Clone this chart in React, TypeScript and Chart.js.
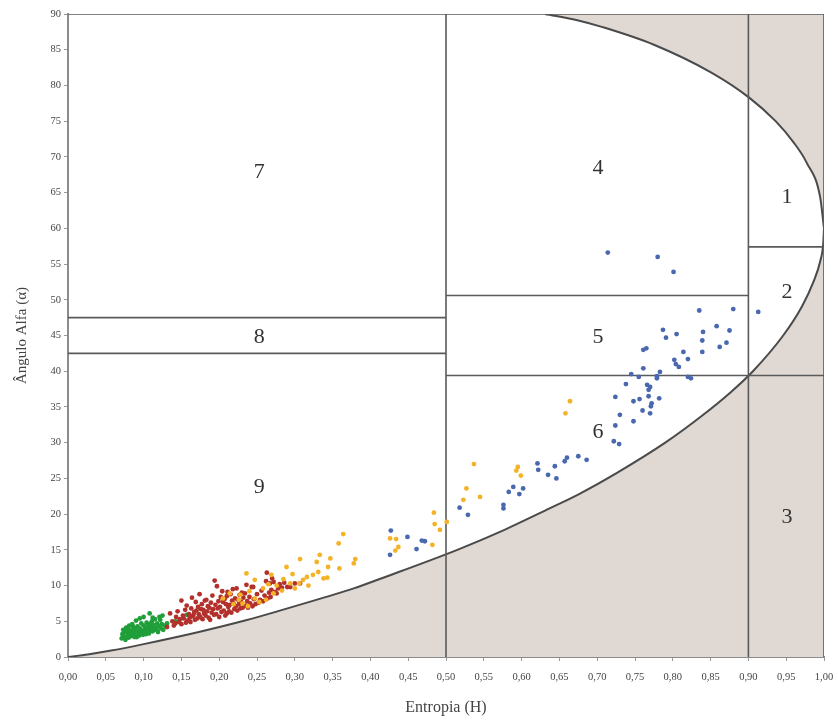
import React, { useEffect, useRef } from "react";
import { Chart, registerables } from "chart.js";

Chart.register(...registerables);

type P = [number, number];

const lowerCurve: P[] = [
  [0, 0], [0.026, 0.36], [0.057, 0.9], [0.1, 1.8], [0.173, 3.5], [0.234, 5.1], [0.287, 6.7],
  [0.335, 8.2], [0.378, 9.6], [0.417, 11.1], [0.515, 15], [0.569, 17.4], [0.637, 20.8],
  [0.676, 22.8], [0.725, 25.7], [0.79, 30], [0.839, 33.8], [0.877, 37.1], [0.906, 40],
  [0.946, 45], [0.971, 49.1], [0.986, 52.5], [0.995, 55.4], [0.999, 57.9], [1, 60],
];

const upperCurve: P[] = [
  [0.631, 90], [0.675, 89.1], [0.706, 88.2], [0.775, 85.7], [0.851, 81.8], [0.901, 78.3],
  [0.936, 75], [0.96, 72], [0.977, 69.2], [0.995, 64.3], [1, 60],
];

const zoneSegments: P[][] = [
  [[0.5, 0], [0.5, 90]],
  [[0.9, 0], [0.9, 90]],
  [[0, 42.5], [0.5, 42.5]],
  [[0, 47.5], [0.5, 47.5]],
  [[0.5, 39.4], [0.9, 39.4]],
  [[0.5, 50.6], [0.9, 50.6]],
  [[0.9, 39.4], [1, 39.4]],
  [[0.9, 57.4], [1, 57.4]],
  [[0, 90], [1, 90]],
  [[1, 0], [1, 90]],
];

const zoneNames = ["1", "2", "3", "4", "5", "6", "7", "8", "9"];
const zoneNameH = [0.951, 0.951, 0.951, 0.701, 0.701, 0.701, 0.253, 0.253, 0.253];
const zoneNameA = [64.4, 51.0, 19.6, 68.4, 44.7, 31.5, 67.9, 44.7, 23.8];

const bluePoints: P[] = [
  [0.714, 56.6], [0.78, 56.0], [0.801, 53.9],
  [0.835, 48.5], [0.88, 48.7], [0.913, 48.3],
  [0.787, 45.8], [0.791, 44.7], [0.805, 45.2], [0.84, 45.5], [0.858, 46.3], [0.875, 45.7],
  [0.839, 44.3], [0.871, 44.0], [0.862, 43.4], [0.839, 42.7],
  [0.761, 43.0], [0.765, 43.2], [0.814, 42.7], [0.82, 41.7], [0.802, 41.6], [0.804, 41.0],
  [0.808, 40.6], [0.761, 40.4], [0.783, 39.9], [0.779, 39.3], [0.779, 39.0], [0.745, 39.6],
  [0.755, 39.2], [0.82, 39.2], [0.824, 39.0],
  [0.738, 38.2], [0.766, 38.1], [0.77, 37.8], [0.768, 37.4], [0.724, 36.4], [0.748, 35.8],
  [0.756, 36.1], [0.768, 36.5], [0.772, 35.5], [0.771, 35.1], [0.782, 36.2], [0.76, 34.5],
  [0.77, 34.1], [0.73, 33.9], [0.748, 33.0], [0.724, 32.4], [0.722, 30.2], [0.729, 29.8],
  [0.675, 28.1], [0.686, 27.6], [0.66, 27.9], [0.657, 27.4], [0.644, 26.7],
  [0.621, 27.1], [0.622, 26.2], [0.635, 25.5], [0.646, 25.0], [0.589, 23.8], [0.602, 23.6],
  [0.583, 23.1], [0.597, 22.8], [0.576, 21.3], [0.576, 20.8],
  [0.518, 20.9], [0.529, 19.9],
  [0.427, 17.7], [0.449, 16.8], [0.468, 16.3], [0.472, 16.2], [0.461, 15.1], [0.426, 14.3],
];

const orangePoints: P[] = [
  [0.664, 35.8], [0.658, 34.1], [0.595, 26.6], [0.593, 26.1], [0.599, 25.4], [0.545, 22.4],
  [0.537, 27.0], [0.527, 23.6], [0.523, 22.0],
  [0.484, 20.2], [0.485, 18.6], [0.492, 17.8], [0.501, 18.9], [0.482, 15.7],
  [0.364, 17.2], [0.358, 15.9], [0.426, 16.6], [0.434, 16.5], [0.437, 15.4], [0.433, 14.9],
  [0.38, 13.7], [0.378, 13.1], [0.333, 14.3], [0.329, 13.3], [0.307, 13.7], [0.347, 13.8],
  [0.344, 12.6], [0.359, 12.4], [0.331, 11.9], [0.338, 11.0], [0.343, 11.1], [0.289, 12.6],
  [0.316, 11.2], [0.297, 11.6], [0.311, 10.8], [0.324, 11.5], [0.236, 11.7], [0.269, 11.5],
  [0.285, 10.9], [0.294, 10.3], [0.306, 10.3], [0.247, 10.8], [0.283, 9.3], [0.272, 8.9],
  [0.262, 8.0], [0.247, 8.2], [0.253, 7.7], [0.214, 8.9], [0.228, 8.7], [0.231, 7.5],
  [0.238, 7.1], [0.219, 7.4], [0.3, 9.6], [0.318, 10.0], [0.258, 9.6], [0.265, 10.2],
  [0.205, 8.2], [0.24, 9.2], [0.276, 10.0], [0.226, 8.0],
];

const redPoints: P[] = [
  [0.131, 4.2], [0.135, 6.1], [0.138, 5.0], [0.14, 4.4], [0.142, 4.7], [0.143, 5.6], [0.145, 6.4],
  [0.147, 4.9], [0.148, 5.3], [0.15, 7.9], [0.15, 4.6], [0.152, 5.8], [0.153, 5.4], [0.155, 6.6],
  [0.156, 4.8], [0.157, 7.2], [0.158, 5.1], [0.16, 6.0], [0.161, 5.5], [0.162, 4.9], [0.163, 6.8],
  [0.164, 8.3], [0.165, 5.7], [0.166, 5.9], [0.167, 6.3], [0.168, 5.2], [0.169, 7.7], [0.17, 6.5],
  [0.171, 5.4], [0.172, 7.0], [0.173, 6.0], [0.174, 8.8], [0.175, 5.6], [0.176, 6.7], [0.177, 7.4],
  [0.178, 5.3], [0.179, 6.6], [0.18, 6.1], [0.181, 7.9], [0.182, 5.8], [0.183, 8.0], [0.184, 6.4],
  [0.185, 7.1], [0.186, 5.5], [0.187, 6.9], [0.188, 5.2], [0.189, 7.6], [0.19, 6.2], [0.191, 8.6],
  [0.192, 6.7], [0.193, 5.9], [0.194, 10.7], [0.195, 7.3], [0.196, 6.0], [0.197, 9.9], [0.198, 6.8],
  [0.199, 7.8], [0.2, 5.6], [0.201, 7.0], [0.202, 8.4], [0.203, 6.3], [0.204, 9.2], [0.205, 7.7],
  [0.206, 6.5], [0.207, 8.1], [0.208, 5.8], [0.209, 7.4], [0.21, 8.5], [0.21, 6.1], [0.211, 9.1],
  [0.212, 7.0], [0.213, 6.4], [0.214, 7.3], [0.215, 8.8], [0.216, 6.2], [0.217, 7.9], [0.218, 9.5],
  [0.219, 7.5], [0.22, 6.7], [0.221, 8.2], [0.222, 7.1], [0.223, 9.6], [0.224, 6.5], [0.225, 8.0],
  [0.226, 7.4], [0.227, 8.7], [0.228, 6.8], [0.229, 7.7], [0.23, 9.0], [0.231, 6.9], [0.232, 8.3],
  [0.234, 8.9], [0.235, 7.2], [0.236, 10.1], [0.237, 7.8], [0.238, 6.9], [0.24, 8.4], [0.241, 7.5],
  [0.243, 9.8], [0.244, 7.1], [0.245, 9.8], [0.246, 8.1], [0.248, 7.4], [0.25, 8.8], [0.252, 7.6],
  [0.254, 8.0], [0.256, 9.3], [0.258, 7.8], [0.26, 8.6], [0.262, 10.6], [0.263, 11.8], [0.264, 8.2],
  [0.266, 9.0], [0.267, 10.3], [0.268, 8.4], [0.269, 9.4], [0.27, 11.0], [0.272, 10.5], [0.274, 9.1],
  [0.276, 8.9], [0.278, 9.6], [0.28, 10.2], [0.283, 9.7], [0.286, 10.4], [0.29, 9.8], [0.294, 9.8],
  [0.3, 10.3], [0.307, 10.3],
];

const greenPoints: P[] = [
  [0.071, 2.6], [0.072, 3.2], [0.073, 3.8], [0.074, 2.9], [0.075, 3.5], [0.076, 2.4], [0.077, 4.1],
  [0.078, 3.5], [0.079, 3.0], [0.08, 2.7], [0.08, 3.9], [0.081, 4.4], [0.082, 3.3], [0.083, 2.9],
  [0.084, 3.7], [0.085, 4.6], [0.086, 4.2], [0.086, 3.1], [0.087, 3.5], [0.088, 2.8], [0.089, 4.0],
  [0.09, 5.1], [0.09, 3.4], [0.091, 2.8], [0.092, 4.3], [0.093, 3.6], [0.094, 3.0], [0.095, 5.4],
  [0.095, 4.0], [0.096, 3.3], [0.097, 4.7], [0.098, 3.7], [0.099, 3.1], [0.1, 4.4], [0.1, 5.6],
  [0.101, 3.5], [0.102, 4.0], [0.103, 3.2], [0.104, 4.0], [0.104, 4.8], [0.105, 3.6], [0.106, 4.3],
  [0.107, 3.3], [0.108, 6.1], [0.108, 4.6], [0.109, 3.8], [0.11, 4.2], [0.111, 5.0], [0.112, 3.6],
  [0.113, 4.5], [0.114, 3.9], [0.115, 5.3], [0.116, 4.1], [0.117, 3.8], [0.118, 4.7], [0.119, 3.5],
  [0.12, 4.3], [0.121, 5.6], [0.122, 5.2], [0.123, 4.0], [0.124, 4.6], [0.126, 3.8], [0.128, 4.4],
  [0.131, 4.7], [0.142, 5.0], [0.157, 5.9], [0.125, 5.8], [0.112, 5.5],
];

const toXY = (pts: P[]) => pts.map(([x, y]) => ({ x, y }));

const SERIF = "'Liberation Serif', 'DejaVu Serif', serif";
const SHADE = "#dfd8d3";

const zoneLabelPlugin = {
  id: "zoneLabels",
  afterDatasetsDraw(chart: any) {
    const { ctx, scales } = chart;
    ctx.save();
    ctx.fillStyle = "#333";
    ctx.font = `22px ${SERIF}`;
    ctx.textAlign = "center";
    ctx.textBaseline = "middle";
    zoneNames.forEach((n, i) => {
      ctx.fillText(n, scales.x.getPixelForValue(zoneNameH[i]), scales.y.getPixelForValue(zoneNameA[i]));
    });
    ctx.restore();
  },
};

export default function App() {
  const ref = useRef<HTMLCanvasElement>(null);
  useEffect(() => {
    document.body.style.margin = "0";
    if (!ref.current) return;
    const pointDs = (label: string, pts: P[], color: string) => ({
      label,
      data: toXY(pts),
      backgroundColor: color,
      borderWidth: 0,
      pointRadius: 2.4,
      showLine: false,
      order: 0,
    });
    const datasets: any[] = [
      {
        label: "lower",
        data: toXY(lowerCurve),
        showLine: true,
        cubicInterpolationMode: "monotone",
        borderColor: "#4a4a4a",
        borderWidth: 2,
        pointRadius: 0,
        fill: "origin",
        backgroundColor: SHADE,
        order: 10,
      },
      {
        label: "upper",
        data: toXY(upperCurve),
        showLine: true,
        cubicInterpolationMode: "monotone",
        borderColor: "#4a4a4a",
        borderWidth: 2,
        pointRadius: 0,
        fill: "end",
        backgroundColor: SHADE,
        order: 10,
      },
      ...zoneSegments.map((seg, i) => ({
        label: "zone" + i,
        data: toXY(seg),
        showLine: true,
        borderColor: "#5a5a5a",
        borderWidth: 1.6,
        pointRadius: 0,
        fill: false,
        order: 5,
      })),
      pointDs("blue", bluePoints, "#4a68b0"),
      pointDs("orange", orangePoints, "#f4b227"),
      pointDs("red", redPoints, "#b3312c"),
      pointDs("green", greenPoints, "#1f9e3a"),
    ];
    const chart = new Chart(ref.current, {
      type: "scatter",
      data: { datasets },
      plugins: [zoneLabelPlugin],
      options: {
        responsive: false,
        animation: false,
        layout: { padding: { left: 9, right: 14, top: 14, bottom: 5 } },
        plugins: { legend: { display: false }, tooltip: { enabled: false } },
        scales: {
          x: {
            type: "linear",
            min: 0,
            max: 1,
            afterFit: (s: any) => { s.height = 64; s.paddingLeft = 0; s.paddingRight = 0; },
            ticks: {
              stepSize: 0.05,
              autoSkip: false,
              maxRotation: 0,
              padding: 10,
              color: "#444",
              font: { family: SERIF, size: 10.5 },
              callback: (v: any) => Number(v).toFixed(2).replace(".", ","),
            },
            grid: { drawOnChartArea: false, drawTicks: true, tickLength: 4, color: "#999" },
            border: { color: "#8c8c8c", width: 2 },
            title: {
              display: true,
              text: "Entropia (H)",
              color: "#444",
              font: { family: SERIF, size: 16 },
            },
          },
          y: {
            type: "linear",
            min: 0,
            max: 90,
            afterFit: (s: any) => { s.width = 59; s.paddingTop = 0; s.paddingBottom = 0; },
            ticks: {
              stepSize: 5,
              autoSkip: false,
              padding: 3,
              color: "#444",
              font: { family: SERIF, size: 10.5 },
            },
            grid: { drawOnChartArea: false, drawTicks: true, tickLength: 4, color: "#999" },
            border: { color: "#8c8c8c", width: 2 },
            title: {
              display: true,
              text: "Ângulo Alfa (α)",
              color: "#444",
              font: { family: SERIF, size: 15 },
            },
          },
        },
      } as any,
    });
    return () => chart.destroy();
  }, []);
  return (
    <div style={{ width: 838, height: 726 }}>
      <canvas ref={ref} width={838} height={726} style={{ display: "block" }} />
    </div>
  );
}
